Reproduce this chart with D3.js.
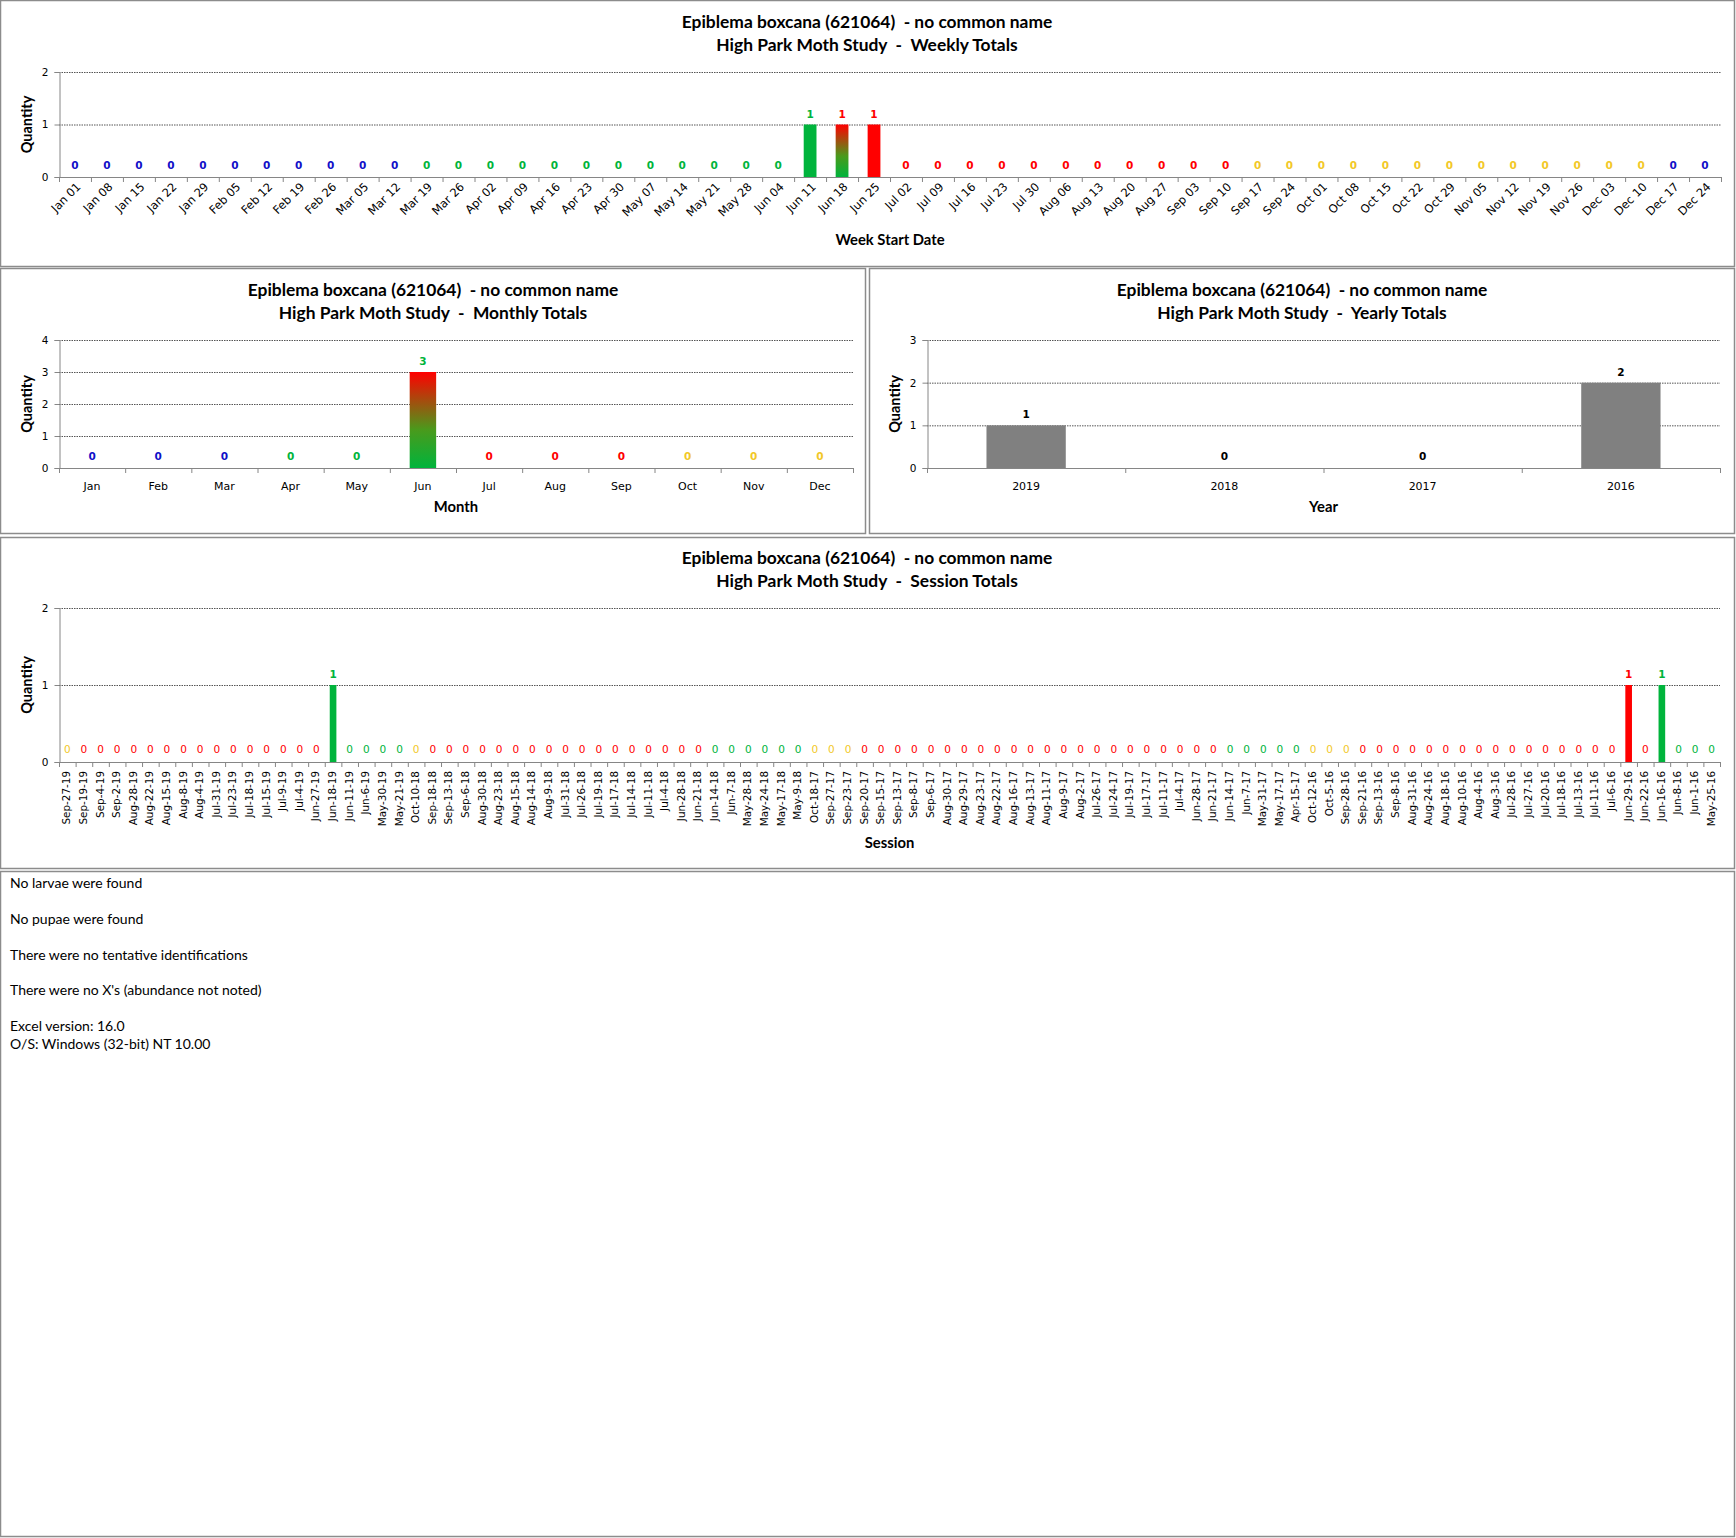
<!DOCTYPE html>
<html>
<head>
<meta charset="utf-8">
<script src="https://cdn.jsdelivr.net/npm/d3@7"></script>
<style>
  body { margin: 0; background: #fff; }
  text { white-space: pre; }
</style>
</head>
<body>
<svg id="page" width="1736" height="1538"></svg>
<script>
// ---- data ----
const speciesTitle = "Epiblema boxcana (621064)  - no common name";

const weekLabels = ["Jan 01","Jan 08","Jan 15","Jan 22","Jan 29","Feb 05","Feb 12","Feb 19","Feb 26",
  "Mar 05","Mar 12","Mar 19","Mar 26","Apr 02","Apr 09","Apr 16","Apr 23","Apr 30","May 07","May 14",
  "May 21","May 28","Jun 04","Jun 11","Jun 18","Jun 25","Jul 02","Jul 09","Jul 16","Jul 23","Jul 30",
  "Aug 06","Aug 13","Aug 20","Aug 27","Sep 03","Sep 10","Sep 17","Sep 24","Oct 01","Oct 08","Oct 15",
  "Oct 22","Oct 29","Nov 05","Nov 12","Nov 19","Nov 26","Dec 03","Dec 10","Dec 17","Dec 24"];
const weekValues = [0,0,0,0,0,0,0,0,0,0,0,0,0,0,0,0,0,0,0,0,0,0,0,1,1,1,
  0,0,0,0,0,0,0,0,0,0,0,0,0,0,0,0,0,0,0,0,0,0,0,0,0,0];

const monthLabels = ["Jan","Feb","Mar","Apr","May","Jun","Jul","Aug","Sep","Oct","Nov","Dec"];
const monthValues = [0,0,0,0,0,3,0,0,0,0,0,0];

const yearLabels = ["2019","2018","2017","2016"];
const yearValues = [1,0,0,2];

const sessionLabels = ["Sep-27-19","Sep-19-19","Sep-4-19","Sep-2-19","Aug-28-19","Aug-22-19","Aug-15-19",
  "Aug-8-19","Aug-4-19","Jul-31-19","Jul-23-19","Jul-18-19","Jul-15-19","Jul-9-19","Jul-4-19","Jun-27-19",
  "Jun-18-19","Jun-11-19","Jun-6-19","May-30-19","May-21-19",
  "Oct-10-18","Sep-18-18","Sep-13-18","Sep-6-18","Aug-30-18","Aug-23-18","Aug-15-18","Aug-14-18","Aug-9-18",
  "Jul-31-18","Jul-26-18","Jul-19-18","Jul-17-18","Jul-14-18","Jul-11-18","Jul-4-18","Jun-28-18","Jun-21-18",
  "Jun-14-18","Jun-7-18","May-28-18","May-24-18","May-17-18","May-9-18",
  "Oct-18-17","Sep-27-17","Sep-23-17","Sep-20-17","Sep-15-17","Sep-13-17","Sep-8-17","Sep-6-17","Aug-30-17",
  "Aug-29-17","Aug-23-17","Aug-22-17","Aug-16-17","Aug-13-17","Aug-11-17","Aug-9-17","Aug-2-17","Jul-26-17",
  "Jul-24-17","Jul-19-17","Jul-17-17","Jul-11-17","Jul-4-17","Jun-28-17","Jun-21-17","Jun-14-17","Jun-7-17",
  "May-31-17","May-17-17","Apr-15-17",
  "Oct-12-16","Oct-5-16","Sep-28-16","Sep-21-16","Sep-13-16","Sep-8-16","Aug-31-16","Aug-24-16","Aug-18-16",
  "Aug-10-16","Aug-4-16","Aug-3-16","Jul-28-16","Jul-27-16","Jul-20-16","Jul-18-16","Jul-13-16","Jul-11-16",
  "Jul-6-16","Jun-29-16","Jun-22-16","Jun-16-16","Jun-8-16","Jun-1-16","May-25-16"];
const sessionValues = [0,0,0,0,0,0,0,0,0,0,0,0,0,0,0,0,1,0,0,0,0,
  0,0,0,0,0,0,0,0,0,0,0,0,0,0,0,0,0,0,0,0,0,0,0,0,
  0,0,0,0,0,0,0,0,0,0,0,0,0,0,0,0,0,0,0,0,0,0,0,0,0,0,0,0,0,0,
  0,0,0,0,0,0,0,0,0,0,0,0,0,0,0,0,0,0,0,1,0,1,0,0,0];

const notes = ["No larvae were found", "No pupae were found", "There were no tentative identifications",
  "There were no X's (abundance not noted)", "Excel version: 16.0", "O/S: Windows (32-bit) NT 10.00"];

// ---- season colouring (astronomical seasons) ----
const seasonColor = { winter: "#1010c8", spring: "#00b43c", summer: "#ff0000", fall: "#f2c828" };
function season(date) {
  const m = date.getMonth() + 1, d = date.getDate();
  if (m < 3 || (m === 3 && d < 20) || (m === 12 && d >= 21)) return "winter";
  if (m < 6 || (m === 6 && d < 21)) return "spring";
  if (m < 9 || (m === 9 && d < 22)) return "summer";
  return "fall";
}
const parseWeek = d3.timeParse("%b %d");
const parseSession = d3.timeParse("%b-%d-%y");

const svg = d3.select("#page");
const FONT = "'DejaVu Sans', Verdana, sans-serif";
const TITLE_FONT = "Lato, 'Open Sans', sans-serif";

// gradient for bars that straddle spring/summer
const defs = svg.append("defs");
const grad = defs.append("linearGradient").attr("id", "springSummer")
  .attr("x1", 0).attr("y1", 1).attr("x2", 0).attr("y2", 0);
grad.append("stop").attr("offset", "0%").attr("stop-color", seasonColor.spring);
grad.append("stop").attr("offset", "40%").attr("stop-color", "#4a9a1c");
grad.append("stop").attr("offset", "100%").attr("stop-color", seasonColor.summer);

// panel frames
[[0, 0, 1735, 267], [0, 268, 866, 266], [869, 268, 866, 266], [0, 537, 1735, 332], [0, 871, 1735, 666]]
  .forEach(([x, y, w, h]) => {
    svg.append("rect").attr("x", x + 0.5).attr("y", y + 0.5).attr("width", w - 1).attr("height", h - 1)
      .attr("fill", "none").attr("stroke", "#8c8c8c").attr("stroke-width", 1.5);
  });

function drawChart(o) {
  const g = svg.append("g");
  const x = d3.scaleBand().domain(o.labels).range([o.left, o.right]).paddingInner(0.6).paddingOuter(0.3);
  const y = d3.scaleLinear().domain([0, o.yMax]).range([o.bottom, o.top]);

  // titles
  g.append("text").attr("x", o.titleX).attr("y", o.titleY)
    .attr("text-anchor", "middle").attr("font-family", TITLE_FONT).attr("font-weight", "bold")
    .attr("font-size", "17.4px").text(speciesTitle);
  g.append("text").attr("x", o.titleX).attr("y", o.titleY + 23)
    .attr("text-anchor", "middle").attr("font-family", TITLE_FONT).attr("font-weight", "bold")
    .attr("font-size", "17.4px").text("High Park Moth Study  -  " + o.subtitle);

  // gridlines
  const ticks = d3.range(1, o.yMax + 1);
  g.selectAll("line.grid").data(ticks).join("line")
    .attr("x1", o.left).attr("x2", o.right)
    .attr("y1", d => y(d) + 0.5).attr("y2", d => y(d) + 0.5)
    .attr("stroke", "#555").attr("stroke-width", 1).attr("stroke-dasharray", "1.5,1");

  // y axis
  const yAxis = g.append("g").attr("transform", `translate(${o.left + 0.5},0)`)
    .call(d3.axisLeft(y).tickValues(d3.range(0, o.yMax + 1)).tickSize(5).tickPadding(6).tickFormat(d3.format("d")));
  yAxis.select(".domain").attr("stroke", "#868686");
  yAxis.selectAll(".tick line").attr("stroke", "#868686");
  yAxis.selectAll("text").attr("font-family", FONT).attr("font-size", "10.5px").attr("fill", "#000");

  g.append("text").attr("transform", `translate(${o.qX},${(o.top + o.bottom) / 2}) rotate(-90)`)
    .attr("text-anchor", "middle").attr("font-family", TITLE_FONT).attr("font-weight", "bold")
    .attr("font-size", "14.5px").text("Quantity");

  // bars
  const data = o.labels.map((l, i) => ({ label: l, value: o.values[i] }));
  g.selectAll("rect.bar").data(data.filter(d => d.value > 0)).join("rect")
    .attr("x", d => x(d.label)).attr("width", x.bandwidth())
    .attr("y", d => y(d.value)).attr("height", d => y(0) - y(d.value))
    .attr("fill", d => o.barFill(d));

  // x axis baseline and category separators
  g.append("line").attr("x1", o.left).attr("x2", o.right)
    .attr("y1", o.bottom + 0.5).attr("y2", o.bottom + 0.5).attr("stroke", "#868686");
  const edges = o.labels.map(l => x(l) - x.step() * x.paddingInner() / 2).concat([o.right]);
  g.selectAll("line.sep").data(edges).join("line")
    .attr("x1", d => d + 0.5).attr("x2", d => d + 0.5)
    .attr("y1", o.bottom).attr("y2", o.bottom + 5).attr("stroke", "#868686");

  // value labels
  g.selectAll("text.val").data(data).join("text")
    .attr("x", d => x(d.label) + x.bandwidth() / 2)
    .attr("y", d => d.value > 0 ? y(d.value) - 7 : y(0) - o.zeroOffset)
    .attr("text-anchor", "middle").attr("font-family", FONT).attr("font-size", "10.5px")
    .attr("font-weight", d => (o.boldZeros || d.value > 0) ? "bold" : "normal")
    .attr("fill", d => o.labelFill(d)).text(d => d.value);

  // category labels
  const cx = d => x(d) + x.bandwidth() / 2;
  if (o.rotate === 0) {
    g.selectAll("text.cat").data(o.labels).join("text")
      .attr("x", cx).attr("y", o.bottom + 22)
      .attr("text-anchor", "middle").attr("font-family", FONT).attr("font-size", "11px").text(d => d);
  } else {
    g.selectAll("text.cat").data(o.labels).join("text")
      .attr("transform", d => `translate(${cx(d) + o.catDx},${o.bottom + o.catDy}) rotate(${o.rotate})`)
      .attr("text-anchor", "end").attr("dominant-baseline", "middle")
      .attr("font-family", FONT).attr("font-size", o.catSize).text(d => d);
  }

  g.append("text").attr("x", (o.left + o.right) / 2).attr("y", o.axisTitleY)
    .attr("text-anchor", "middle").attr("font-family", TITLE_FONT).attr("font-weight", "bold")
    .attr("font-size", "14.8px").text(o.axisTitle);
}

// weekly
drawChart({
  labels: weekLabels, values: weekValues, yMax: 2,
  left: 59, right: 1721, top: 72, bottom: 177,
  titleX: 867, titleY: 28, subtitle: "Weekly Totals", qX: 32,
  axisTitle: "Week Start Date", axisTitleY: 245,
  rotate: -45, catDx: 4, catDy: 8, catSize: "11.5px", zeroOffset: 8, boldZeros: true,
  labelFill: d => { const s = parseWeek(d.label); return seasonColor[season(d3.timeDay.offset(s, 6))]; },
  barFill: d => {
    const s = parseWeek(d.label), e = d3.timeDay.offset(s, 6);
    return season(s) !== season(e) ? "url(#springSummer)" : seasonColor[season(s)];
  }
});

// monthly
drawChart({
  labels: monthLabels, values: monthValues, yMax: 4,
  left: 59, right: 853, top: 340, bottom: 468,
  titleX: 433, titleY: 296, subtitle: "Monthly Totals", qX: 32,
  axisTitle: "Month", axisTitleY: 512,
  rotate: 0, zeroOffset: 8, boldZeros: true,
  labelFill: d => seasonColor[season(new Date(2019, monthLabels.indexOf(d.label), 1))],
  barFill: d => {
    const m = monthLabels.indexOf(d.label);
    const s = new Date(2019, m, 1), e = new Date(2019, m + 1, 0);
    return season(s) !== season(e) ? "url(#springSummer)" : seasonColor[season(s)];
  }
});

// yearly
drawChart({
  labels: yearLabels, values: yearValues, yMax: 3,
  left: 927, right: 1720, top: 340, bottom: 468,
  titleX: 1302, titleY: 296, subtitle: "Yearly Totals", qX: 900,
  axisTitle: "Year", axisTitleY: 512,
  rotate: 0, zeroOffset: 8, boldZeros: true,
  labelFill: () => "#000", barFill: () => "#808080"
});

// session
drawChart({
  labels: sessionLabels, values: sessionValues, yMax: 2,
  left: 59, right: 1720, top: 608, bottom: 762,
  titleX: 867, titleY: 564, subtitle: "Session Totals", qX: 32,
  axisTitle: "Session", axisTitleY: 848,
  rotate: -90, catDx: 0, catDy: 9, catSize: "10.4px", zeroOffset: 9, boldZeros: false,
  labelFill: d => seasonColor[season(parseSession(d.label))],
  barFill: d => seasonColor[season(parseSession(d.label))]
});

// notes under the charts
const noteY = [888, 924, 960, 995, 1031, 1049];
svg.selectAll("text.note").data(notes).join("text")
  .attr("x", 10).attr("y", (d, i) => noteY[i])
  .attr("font-family", TITLE_FONT).attr("font-size", "14px").attr("fill", "#000").text(d => d);
</script>
</body>
</html>
